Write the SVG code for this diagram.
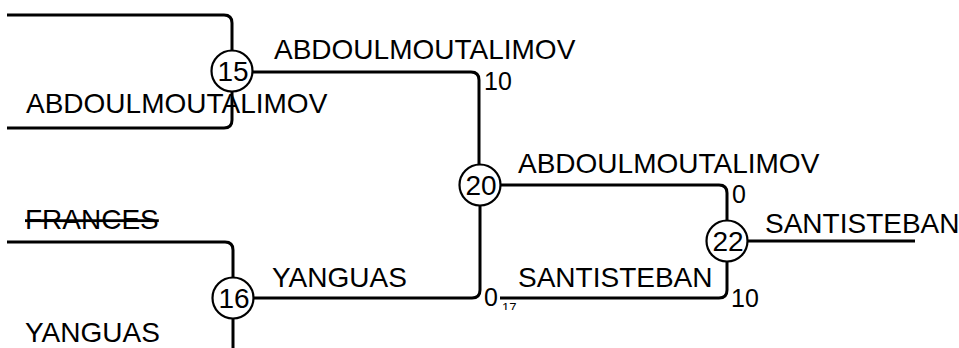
<svg xmlns="http://www.w3.org/2000/svg" width="959" height="348" viewBox="0 0 959 348">
<style>
.e{fill:none;stroke:#000;stroke-width:3}
.n circle{fill:#fff;stroke:#000;stroke-width:2.2}
.n text{font-family:"Liberation Sans",Arial,sans-serif;font-size:28px;text-anchor:middle;fill:#000}
.l{font-family:"Liberation Sans",Arial,sans-serif;font-size:28px;fill:#000}
.w{font-family:"Liberation Sans",Arial,sans-serif;font-size:25px;fill:#000}
.s{font-family:"Liberation Sans",Arial,sans-serif;font-size:13px;fill:#000}
</style>
<defs>
<clipPath id="c17"><rect x="495" y="295" width="30" height="15"/></clipPath>
</defs>
<rect width="959" height="348" fill="#fff"/>
<g id="connectors">
<path class="e" d="M7,15 H224 Q232,15 232,23 V50"/>
<path class="e" d="M7,128 H224 Q232,128 232,120 V92"/>
<path class="e" d="M253,72 H471 Q479,72 479,80 V164"/>
<path class="e" d="M7,242 H225 Q233,242 233,250 V277"/>
<path class="e" d="M233,319 V348"/>
<path class="e" d="M254,298 H472 Q480,298 480,290 V206"/>
<path class="e" d="M501,185 H719 Q727,185 727,193 V220"/>
<path class="e" d="M500,298 H719 Q727,298 727,290 V262"/>
<path class="e" d="M748,241 H915"/>
</g>
<g id="labels">
<text class="l" x="26" y="113">ABDOULMOUTALIMOV</text>
<text class="l" x="274" y="59">ABDOULMOUTALIMOV</text>
<text class="w" x="484" y="90">10</text>
<text class="l" x="25" y="229" text-decoration="line-through">FRANCES</text>
<text class="l" x="25" y="342">YANGUAS</text>
<text class="l" x="272" y="287">YANGUAS</text>
<text class="w" x="484" y="306">0</text>
<text class="s" x="502" y="312" clip-path="url(#c17)">17</text>
<text class="l" x="518" y="173">ABDOULMOUTALIMOV</text>
<text class="w" x="732" y="203">0</text>
<text class="l" x="518" y="287">SANTISTEBAN</text>
<text class="w" x="731" y="307">10</text>
<text class="l" x="765" y="233">SANTISTEBAN</text>
</g>
<g id="node15" class="n"><circle cx="232" cy="71" r="20.5"/><text x="233" y="81">15</text></g>
<g id="node16" class="n"><circle cx="233" cy="298" r="20.5"/><text x="234" y="308">16</text></g>
<g id="node20" class="n"><circle cx="480" cy="185" r="20.5"/><text x="481" y="195">20</text></g>
<g id="node22" class="n"><circle cx="727" cy="241" r="20.5"/><text x="728" y="251">22</text></g>
</svg>
